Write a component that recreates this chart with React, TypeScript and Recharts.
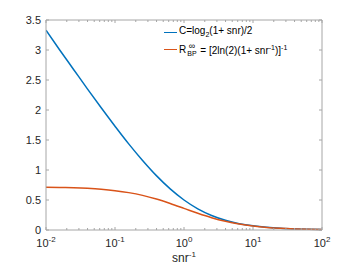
import { LineChart, Line, XAxis, YAxis, Legend } from 'recharts';

// snr^-1 sample points (log-spaced) and the two curves
const snrInv = [0.01, 0.0158, 0.0251, 0.0398, 0.0631, 0.1, 0.158, 0.251, 0.398, 0.631, 1, 1.585, 2.512, 3.981, 6.31, 10, 15.85, 25.12, 39.81, 63.1, 100];
const capacity = [3.33, 3.0, 2.676, 2.353, 2.037, 1.73, 1.435, 1.159, 0.906, 0.685, 0.5, 0.353, 0.242, 0.162, 0.106, 0.069, 0.044, 0.028, 0.018, 0.011, 0.007];
const rateBP = [0.714, 0.71, 0.704, 0.694, 0.679, 0.656, 0.623, 0.577, 0.516, 0.442, 0.361, 0.279, 0.205, 0.145, 0.099, 0.066, 0.043, 0.028, 0.018, 0.011, 0.007];

const majorX = [0.01, 0.1, 1, 10, 100];
const xTicks = [
  0.01, 0.02, 0.03, 0.04, 0.05, 0.06, 0.07, 0.08, 0.09,
  0.1, 0.2, 0.3, 0.4, 0.5, 0.6, 0.7, 0.8, 0.9,
  1, 2, 3, 4, 5, 6, 7, 8, 9,
  10, 20, 30, 40, 50, 60, 70, 80, 90, 100,
];
const yTicks = [0, 0.5, 1, 1.5, 2, 2.5, 3, 3.5];
const expLabels: Record<number, string> = { 0.01: '-2', 0.1: '-1', 1: '0', 10: '1', 100: '2' };

const data = snrInv.map((x, i) => ({ x, c: capacity[i], r: rateBP[i] }));

const AXIS = '#262626';
const BOX = '#a6a6a6';
const FONT = '"Liberation Sans", Arial, sans-serif';

const isMajor = (v: number) => majorX.some((m) => Math.abs(m - v) < 1e-9);

function BottomTick(props: any) {
  const { x, y, payload } = props;
  const v = payload.value;
  const major = isMajor(v);
  return (
    <g>
      <line x1={x} x2={x} y1={y} y2={y - (major ? 3 : 2)} stroke={BOX} />
      {major && (
        <text x={x} y={y + 17} textAnchor="middle" fontSize={11} fill={AXIS} fontFamily={FONT}>
          10<tspan dy={-5} fontSize={8}>{expLabels[v]}</tspan>
        </text>
      )}
    </g>
  );
}

function TopTick(props: any) {
  const { x, y, payload } = props;
  const major = isMajor(payload.value);
  return <line x1={x} x2={x} y1={y} y2={y + (major ? 3 : 2)} stroke={BOX} />;
}

function LeftTick(props: any) {
  const { x, y, payload } = props;
  return (
    <g>
      <line x1={x} x2={x + 3} y1={y} y2={y} stroke={BOX} />
      <text x={x - 5} y={y + 4} textAnchor="end" fontSize={11} fill={AXIS} fontFamily={FONT}>
        {payload.value}
      </text>
    </g>
  );
}

function RightTick(props: any) {
  const { x, y } = props;
  return <line x1={x} x2={x - 3} y1={y} y2={y} stroke={BOX} />;
}

function LegendBox() {
  const row = { display: 'flex', alignItems: 'center', height: 17, whiteSpace: 'nowrap' as const };
  const swatch = (color: string) => (
    <span style={{ display: 'inline-block', width: 13, height: 0, borderTop: `1.5px solid ${color}`, marginRight: 2 }} />
  );
  return (
    <div style={{ fontFamily: FONT, fontSize: 10, color: '#000', lineHeight: '10px' }}>
      <div style={row}>
        {swatch('#0072BD')}
        <span>C=log<sub style={{ fontSize: 7 }}>2</sub>(1+ snr)/2</span>
      </div>
      <div style={row}>
        {swatch('#D95319')}
        <span style={{ display: 'inline-flex', alignItems: 'center' }}>
          R
          <span style={{ display: 'inline-flex', flexDirection: 'column', alignItems: 'center', fontSize: 7, lineHeight: '8px', margin: '0 1px' }}>
            <span style={{ fontSize: 9 }}>∞</span>
            <span>BP</span>
          </span>
          <span>&nbsp;= [2ln(2)(1+ snr<sup style={{ fontSize: 7 }}>-1</sup>)]<sup style={{ fontSize: 7 }}>-1</sup></span>
        </span>
      </div>
    </div>
  );
}

export default function App() {
  return (
    <div style={{ position: 'absolute', left: 0, top: 0, width: 357, height: 267, background: '#fff' }}>
      <LineChart width={357} height={267} data={data} margin={{ top: 19, right: 34, bottom: 0, left: 0 }}>
        <XAxis
          dataKey="x"
          type="number"
          scale="log"
          domain={[0.01, 100]}
          ticks={xTicks}
          allowDataOverflow
          height={37}
          stroke={BOX}
          tickLine={false}
          tickSize={0}
          tickMargin={0}
          interval={0}
          tick={<BottomTick />}
          label={{ value: 'snr', position: 'insideBottom', offset: 0, content: () => (
            <text x={184} y={262} textAnchor="middle" fontSize={12} fill={AXIS} fontFamily={FONT}>
              snr<tspan dy={-5} fontSize={8}>-1</tspan>
            </text>
          ) }}
        />
        <XAxis
          xAxisId="top"
          orientation="top"
          dataKey="x"
          type="number"
          scale="log"
          domain={[0.01, 100]}
          ticks={xTicks}
          allowDataOverflow
          height={1}
          stroke={BOX}
          tickLine={false}
          tickSize={0}
          tickMargin={0}
          interval={0}
          tick={<TopTick />}
        />
        <YAxis
          type="number"
          domain={[0, 3.5]}
          ticks={yTicks}
          width={46}
          stroke={BOX}
          tickLine={false}
          tickSize={0}
          tickMargin={0}
          interval={0}
          tick={<LeftTick />}
        />
        <YAxis
          yAxisId="right"
          orientation="right"
          type="number"
          domain={[0, 3.5]}
          ticks={yTicks}
          width={1}
          stroke={BOX}
          tickLine={false}
          tickSize={0}
          tickMargin={0}
          interval={0}
          tick={<RightTick />}
        />
        <Legend
          layout="vertical"
          align="center"
          verticalAlign="middle"
          wrapperStyle={{ left: 164, top: 24, width: 180 }}
          content={() => <LegendBox />}
        />
        <Line type="monotone" dataKey="c" stroke="#0072BD" strokeWidth={1.5} dot={false} isAnimationActive={false} />
        <Line type="monotone" dataKey="r" stroke="#D95319" strokeWidth={1.5} dot={false} isAnimationActive={false} />
        {/* invisible copy so the top/right box axes are active */}
        <Line xAxisId="top" yAxisId="right" dataKey="r" stroke="none" dot={false} legendType="none" isAnimationActive={false} />
      </LineChart>
    </div>
  );
}
